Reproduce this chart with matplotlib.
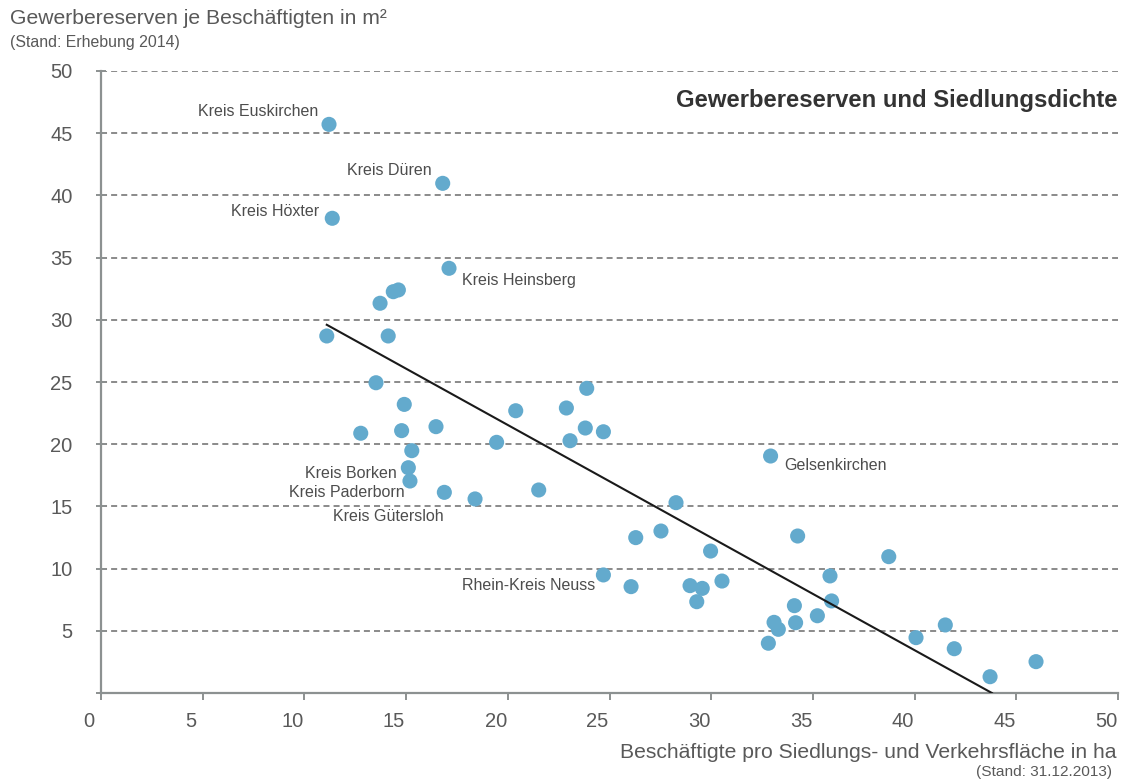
import numpy as np
import matplotlib
matplotlib.use("Agg")
import matplotlib.pyplot as plt
import matplotlib.transforms as mtransforms

plt.rcParams['font.family'] = ['Liberation Sans', 'DejaVu Sans']

# Beschäftigte je ha Siedlungs- und Verkehrsfläche / Gewerbereserven je Beschäftigten (m²)
beschaeftigte = [11.21, 16.80, 11.37, 17.11, 14.37, 14.62, 13.72, 11.10, 14.12,
                 13.52, 14.91, 12.77, 14.78, 16.47, 15.28, 15.11, 15.19, 16.88,
                 18.39, 19.45, 20.39, 21.52, 22.88, 23.88, 23.81, 23.06, 24.70,
                 26.29, 24.70, 26.06, 27.53, 28.27, 29.97, 28.96, 29.56, 29.29,
                 30.53, 32.92, 34.25, 35.84, 35.92, 34.09, 34.15, 35.22, 33.09,
                 33.30, 32.81, 38.73, 40.07, 41.51, 41.95, 43.71, 45.97]
reserven = [45.71, 40.97, 38.16, 34.14, 32.26, 32.40, 31.33, 28.70, 28.70,
            24.94, 23.20, 20.88, 21.09, 21.41, 19.48, 18.11, 17.04, 16.13,
            15.60, 20.15, 22.69, 16.32, 22.91, 24.49, 21.30, 20.28, 21.00,
            12.49, 9.49, 8.55, 13.02, 15.30, 11.41, 8.63, 8.41, 7.34,
            9.00, 19.05, 12.62, 9.41, 7.40, 7.02, 5.65, 6.21, 5.68,
            5.12, 4.00, 10.96, 4.45, 5.47, 3.56, 1.31, 2.52]

# benannte Kreise: Index in den Datenreihen, Textversatz in Pixeln, Ausrichtung
namen = ["Kreis Euskirchen", "Kreis Düren", "Kreis Höxter", "Kreis Heinsberg",
         "Kreis Borken", "Kreis Paderborn", "Kreis Gütersloh",
         "Rhein-Kreis Neuss", "Gelsenkirchen"]
namen_idx = [0, 1, 2, 3, 15, 16, 17, 28, 37]
namen_dx = [-11, -11, -13, 13, -12, -5, -1, -8, 14]
namen_dy = [13, 13, 7, -12, -6, -11, -24, -11, -9]
namen_ha = ['right', 'right', 'right', 'left', 'right', 'right', 'right',
            'right', 'left']

# Trendlinie
trend_x = [11.1, 43.8]
trend_y = [29.6, 0.0]

ticks = list(range(0, 51, 5))

grau = '#8c9191'
text_grau = '#595959'
punkt_farbe = '#63aacd'

fig = plt.figure(figsize=(11.21, 7.82), dpi=100)
ax = fig.add_axes([101 / 1121, 1 - 693 / 782, 1017 / 1121, 622 / 782])
ax.set_xlim(0, 50)
ax.set_ylim(0, 50)

for s in ['top', 'right']:
    ax.spines[s].set_visible(False)
for s in ['left', 'bottom']:
    ax.spines[s].set_color(grau)
    ax.spines[s].set_linewidth(1.6)

for y in ticks[1:]:
    ax.axhline(y, color='#8a8a8a', lw=1.4, ls=(0, (3.1, 2.1)), zorder=1)

ax.set_xticks(ticks)
ax.set_yticks(ticks)
ax.set_yticklabels([''] + [str(t) for t in ticks[1:]])
ax.tick_params(axis='y', direction='inout', length=7, width=1.4, color=grau,
               labelsize=14.5, labelcolor=text_grau, pad=17)
ax.tick_params(axis='x', direction='out', length=5, width=1.4, color=grau,
               labelsize=14.5, labelcolor=text_grau, pad=9)
# Zahlen unter der x-Achse sitzen etwas links von den Strichen
shift = mtransforms.ScaledTranslation(-12 / 100, 0, fig.dpi_scale_trans)
for lab in ax.get_xticklabels():
    lab.set_transform(lab.get_transform() + shift)

ax.scatter(beschaeftigte, reserven, s=118, color=punkt_farbe,
           edgecolors='none', zorder=2, clip_on=False)
ax.plot(trend_x, trend_y, color='#1a1a1a', lw=1.5, zorder=3)

for name, i, dx, dy, ha in zip(namen, namen_idx, namen_dx, namen_dy, namen_ha):
    ax.annotate(name, (beschaeftigte[i], reserven[i]),
                xytext=(dx * 0.72, dy * 0.72), textcoords='offset points',
                ha=ha, va='center', fontsize=11.5, color='#4d4d4d')

fig.text(1117 / 1121, 1 - 100 / 782, 'Gewerbereserven und Siedlungsdichte',
         ha='right', va='center', fontsize=17.2, fontweight='bold',
         color='#333333')
fig.text(10 / 1121, 1 - 19 / 782, 'Gewerbereserven je Beschäftigten in m²',
         ha='left', va='center', fontsize=15.2, color=text_grau)
fig.text(10 / 1121, 1 - 42 / 782, '(Stand: Erhebung 2014)',
         ha='left', va='center', fontsize=11.4, color=text_grau)
fig.text(1117 / 1121, 1 - 752 / 782,
         'Beschäftigte pro Siedlungs- und Verkehrsfläche in ha',
         ha='right', va='center', fontsize=15.2, color=text_grau)
fig.text(1112 / 1121, 1 - 772 / 782, '(Stand: 31.12.2013)',
         ha='right', va='center', fontsize=11.1, color=text_grau)

fig.savefig('out.png', dpi=100)
